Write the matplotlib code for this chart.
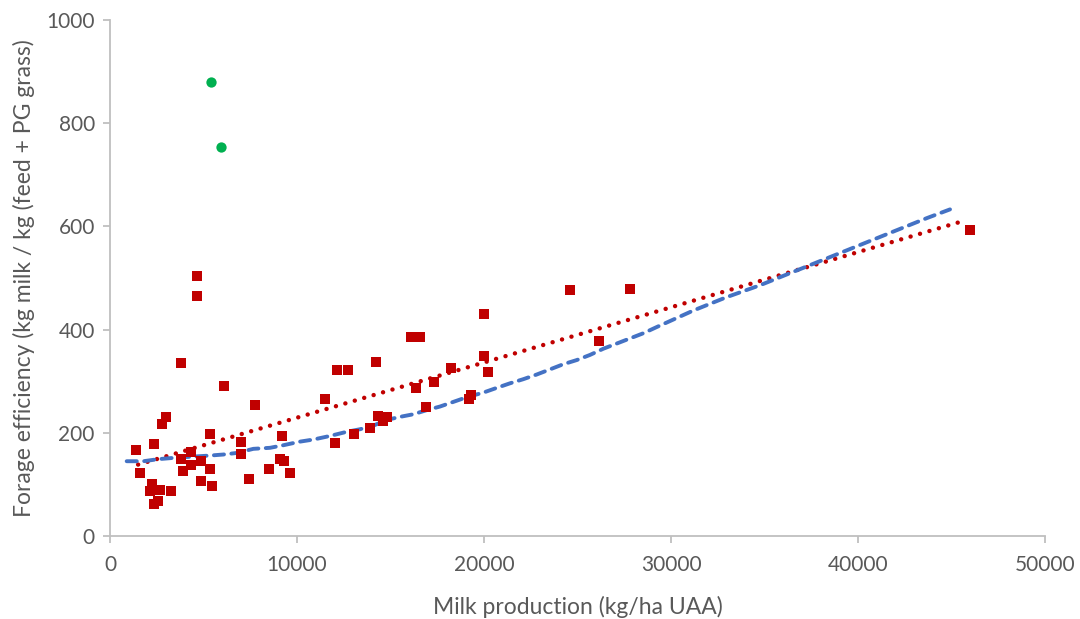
import matplotlib
matplotlib.use('Agg')

import numpy as np
import matplotlib.pyplot as plt

# Farm data: milk production (kg/ha UAA) vs forage efficiency
milk_red = [1374, 1588, 2122, 2228, 2335, 2335, 2550, 2652, 2764, 2979, 3246,
            3797, 3778, 3887, 4315, 4315, 4850, 4850, 4636, 4636, 5331, 5331,
            5439, 6080, 6989, 6989, 7417, 7738, 8487, 9075, 9289, 9182, 9610,
            11482, 12016, 12123, 12711, 13032, 13887, 14209, 14316, 14583,
            14795, 16096, 16561, 16363, 16898, 17326, 18218, 19180, 19287,
            20000, 20000, 20214, 24599, 26150, 27807, 45990]
eff_red = [167, 123, 87, 100, 179, 63, 67, 90, 218, 231, 87,
           335, 149, 127, 163, 138, 107, 146, 503, 466, 198, 130,
           97, 291, 183, 159, 111, 254, 130, 150, 146, 194, 123,
           266, 181, 322, 322, 198, 210, 338, 233, 222,
           231, 386, 386, 287, 250, 298, 326, 266, 274,
           431, 349, 318, 477, 378, 479, 593]

milk_green = [5401, 5920]
eff_green = [880, 753]

# Model curve (blue dashed)
model_x = [890, 1780, 2586, 3556, 4455, 5348, 6060, 6774, 7663, 8556, 9268,
           10160, 10872, 11765, 12656, 13369, 14080, 14795, 15508, 16221,
           16934, 17647, 18360, 19073, 19963, 20588, 21390, 22102, 22816,
           23529, 24241, 24955, 25668, 26380, 27094, 27807, 28519, 29235,
           30214, 31192, 32976, 34759, 36540, 38326, 40107, 41888, 43674,
           44920]
model_y = [145, 145, 149, 152, 154, 156, 158, 161, 169, 171, 176,
           183, 187, 194, 202, 207, 214, 225, 231, 236,
           244, 251, 260, 269, 278, 286, 296, 304, 313,
           323, 333, 341, 351, 363, 373, 383, 393, 405,
           421, 437, 463, 486, 512, 538, 564, 590, 616,
           633]

grey_text = '#595959'
plt.rcParams['font.family'] = ['Lato', 'DejaVu Sans']

fig = plt.figure(figsize=(10.8, 6.19), dpi=100)
ax = fig.add_axes([0.1019, 0.134, 0.8657, 0.8337])

# linear trendline of the red series
slope, intercept = np.polyfit(milk_red, eff_red, 1)
tx = np.array([1500, 45700])
ax.plot(tx, slope * tx + intercept, color='#C00000', lw=3.2,
        linestyle=(0, (0.01, 2.2)), dash_capstyle='round', zorder=2)

ax.plot(model_x, model_y, color='#4472C4', lw=2.8,
        linestyle=(0, (2.6, 1.9)), dash_capstyle='round', zorder=2)

ax.scatter(milk_red, eff_red, marker='s', s=52, color='#C00000',
           linewidths=0, zorder=3)
ax.scatter(milk_green, eff_green, marker='o', s=55, color='#00B050',
           linewidths=0, zorder=3)

ax.set_xlim(0, 50000)
ax.set_ylim(0, 1000)
ax.set_xticks(range(0, 50001, 10000))
ax.set_yticks(range(0, 1001, 200))

for side in ['top', 'right']:
    ax.spines[side].set_visible(False)
for side in ['left', 'bottom']:
    ax.spines[side].set_color('#BFBFBF')
    ax.spines[side].set_linewidth(1.3)
ax.tick_params(axis='both', colors='#BFBFBF', length=5, width=1.3,
               labelcolor=grey_text, labelsize=15)
ax.tick_params(axis='x', pad=9)
ax.tick_params(axis='y', pad=6)

ax.set_xlabel('Milk production (kg/ha UAA)', color=grey_text, fontsize=16.5,
              labelpad=15)
ax.set_ylabel('Forage efficiency (kg milk / kg (feed + PG grass)',
              color=grey_text, fontsize=16.5, labelpad=8)

fig.savefig('out.png', dpi=100)
